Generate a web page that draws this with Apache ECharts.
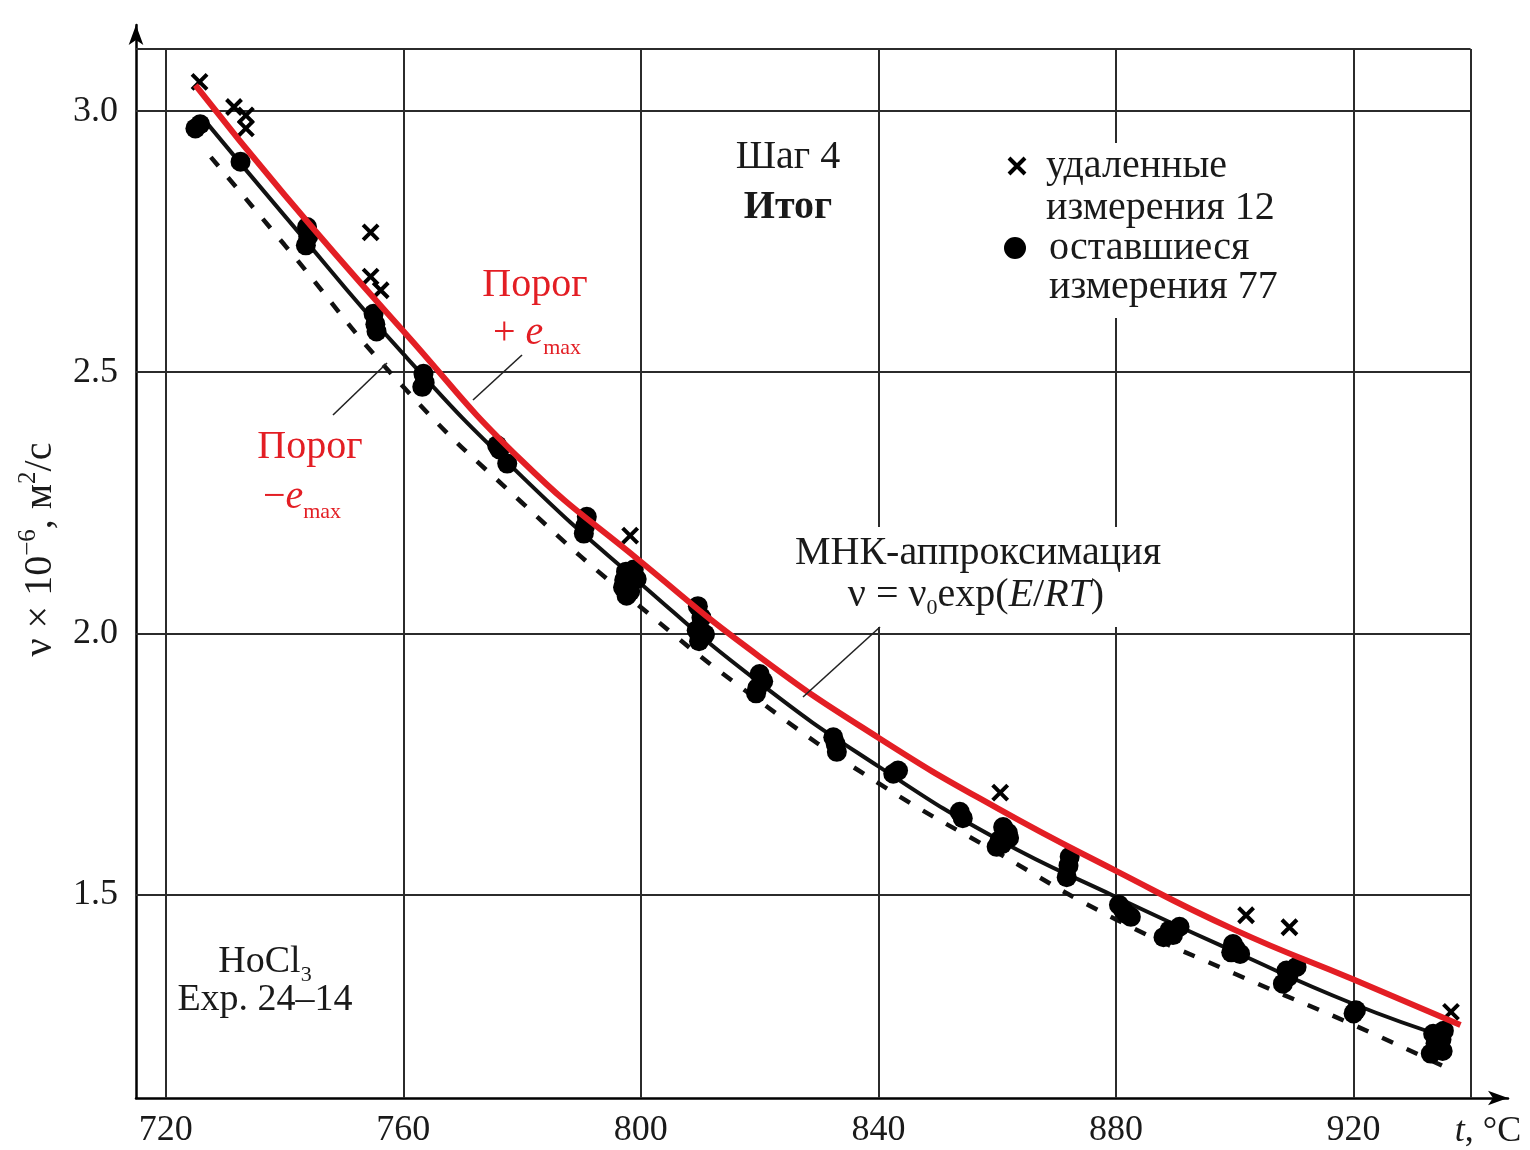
<!DOCTYPE html>
<html><head><meta charset="utf-8">
<script src="https://cdn.jsdelivr.net/npm/echarts@6/dist/echarts.min.js"></script>
<style>html,body{margin:0;padding:0;background:#fff}#c{width:1530px;height:1150px}</style>
</head><body><div id="c"></div><script>
// ---- axes / ticks ----
const xTicks = [720, 760, 800, 840, 880, 920];
const yTicks = [1.5, 2.0, 2.5, 3.0];
const frameT = [715, 939.7];
const frameV = [1.11, 3.119];

// ---- MNK approximation (solid black) ----
const fitT = [726, 740, 760, 780, 800, 820, 840, 860, 880, 900, 920, 936];
const fitV = [2.99, 2.80, 2.535, 2.30, 2.095, 1.905, 1.745, 1.606, 1.495, 1.39, 1.29, 1.225];

// ---- threshold + e_max (red) ----
const upT = [725, 740, 760, 780, 800, 820, 840, 860, 880, 900, 920, 938];
const upV = [3.05, 2.84, 2.579, 2.33, 2.137, 1.955, 1.80, 1.665, 1.545, 1.432, 1.337, 1.25];

// ---- threshold − e_max (dashed) ----
const lowT = [727.6, 740, 760, 780, 800, 820, 840, 860, 880, 900, 920, 936];
const lowV = [2.912, 2.744, 2.472, 2.25, 2.05, 1.87, 1.713, 1.58, 1.452, 1.348, 1.25, 1.166];

// ---- remaining measurements (77) ----
const keptT = [725.0,725.8,732.6,743.8,744.0,743.6,755.0,755.3,755.5,763.4,763.6,763.2,775.8,776.2,777.5,
  790.9,790.6,790.4,797.5,798.5,799.3,798.0,797.0,798.2,797.6,809.6,810.2,809.4,810.8,809.8,
  820.0,820.6,819.6,819.4,832.4,832.8,833.0,842.5,843.3,853.7,854.2,861.0,861.8,860.4,859.9,860.8,
  872.2,872.0,871.7,880.5,881.2,882.5,881.8,889.0,890.7,888.0,889.6,899.7,900.9,900.2,899.4,
  908.7,910.4,908.1,909.0,920.4,920.0,933.4,934.2,935.2,933.0,934.8,935.0,933.8,798.8,797.2,862.0];
const keptV = [2.967,2.975,2.903,2.778,2.760,2.743,2.612,2.592,2.578,2.497,2.480,2.472,2.360,2.352,2.325,
  2.223,2.205,2.191,2.118,2.112,2.104,2.098,2.088,2.080,2.072,2.052,2.030,2.006,1.998,1.985,
  1.922,1.908,1.895,1.885,1.801,1.788,1.773,1.731,1.737,1.658,1.646,1.629,1.618,1.604,1.591,1.596,
  1.572,1.555,1.533,1.480,1.470,1.457,1.462,1.431,1.438,1.418,1.422,1.405,1.386,1.395,1.389,
  1.354,1.361,1.329,1.342,1.278,1.272,1.233,1.208,1.239,1.195,1.222,1.200,1.215,2.122,2.102,1.608];

// ---- removed measurements (12) ----
const removedT = [725.7, 731.5, 733.5, 733.5, 754.5, 754.5, 756.2, 798.2, 860.5, 901.9, 909.2, 936.4];
const removedV = [3.056, 3.008, 2.992, 2.967, 2.768, 2.683, 2.657, 2.187, 1.695, 1.460, 1.437, 1.275];

const names = {
  removed: 'удаленные измерения 12',
  kept: 'оставшиеся измерения 77'
};

const zip = (a, b) => a.map((v, i) => [v, b[i]]);
const FONT = '"Liberation Serif", "Times New Roman", serif';
const INK = '#1a1a1a';
const RED = '#e31e24';

const gridLines = [];
xTicks.forEach(t => gridLines.push([{coord: [t, frameV[0]]}, {coord: [t, frameV[1]]}]));
yTicks.forEach(v => gridLines.push([{coord: [frameT[0], v]}, {coord: [frameT[1], v]}]));
gridLines.push([{coord: [frameT[0], frameV[1]]}, {coord: [frameT[1], frameV[1]]}]);
gridLines.push([{coord: [frameT[1], frameV[0]]}, {coord: [frameT[1], frameV[1]]}]);

const chart = echarts.init(document.getElementById('c'), null, {renderer: 'canvas'});
const rich = (fs, lh, col) => ({
  n: {fontFamily: FONT, fontSize: fs, lineHeight: lh, fill: col},
  i: {fontFamily: FONT, fontSize: fs, fontStyle: 'italic', lineHeight: lh, fill: col},
  s: {fontFamily: FONT, fontSize: 22, lineHeight: lh, verticalAlign: 'bottom', fill: col}
});
chart.setOption({
  animation: false,
  backgroundColor: '#fff',
  grid: {left: 136, right: 22, top: 25, bottom: 52, containLabel: false},
  xAxis: {
    type: 'value', min: 715, max: 946,
    axisLine: {onZero: false, lineStyle: {color: '#000', width: 2.5}, symbol: ['none', 'arrow'], symbolSize: [11, 20]},
    axisTick: {show: false},
    splitLine: {show: false},
    axisLabel: {customValues: xTicks, margin: 15, fontFamily: FONT, fontSize: 36, color: INK},
    name: '{i|t}{n|, °C}', nameLocation: 'end', nameGap: -20,
    nameTextStyle: {align: 'center', verticalAlign: 'top', padding: [16, 0, 0, 0],
      rich: {i: {fontFamily: FONT, fontSize: 36, fontStyle: 'italic', color: INK},
             n: {fontFamily: FONT, fontSize: 36, color: INK}}}
  },
  yAxis: {
    type: 'value', min: 1.11, max: 3.165,
    axisLine: {onZero: false, lineStyle: {color: '#000', width: 2.5}, symbol: ['none', 'arrow'], symbolSize: [11, 20]},
    axisTick: {show: false},
    splitLine: {show: false},
    axisLabel: {customValues: yTicks, margin: 18, fontFamily: FONT, fontSize: 36, color: INK,
      formatter: v => v.toFixed(1)},
    name: '{n|ν × 10}{s|−6}{n|, м}{s|2}{n|/с}', nameLocation: 'middle', nameRotate: 90, nameGap: 72,
    nameTextStyle: {padding: [0, 0, 0, 24],
      rich: {n: {fontFamily: FONT, fontSize: 40, lineHeight: 48, color: INK},
             s: {fontFamily: FONT, fontSize: 25, lineHeight: 48, verticalAlign: 'top', color: INK}}}
  },
  legend: [
    {orient: 'vertical', left: 1007, top: 103, padding: 0, itemWidth: 16, itemHeight: 16, selectedMode: false,
      itemStyle: {borderWidth: 4, borderColor: '#000', color: 'rgba(0,0,0,0)'},
      textStyle: {fontFamily: FONT, fontSize: 40, lineHeight: 42, color: INK, padding: [0, 0, 0, 16]},
      data: [names.removed], formatter: () => '\nудаленные\nизмерения 12'},
    {orient: 'vertical', left: 1004, top: 189, padding: 0, itemWidth: 22, itemHeight: 22, selectedMode: false,
      textStyle: {fontFamily: FONT, fontSize: 40, lineHeight: 39, color: INK, padding: [0, 0, 0, 18]},
      data: [names.kept], formatter: () => '\nоставшиеся\nизмерения 77'}
  ],
  series: [
    {
      name: 'Порог − e_max', type: 'line', data: zip(lowT, lowV), smooth: true, showSymbol: false,
      lineStyle: {color: '#111', width: 4.5, type: [12, 15]}, z: 2, silent: true
    },
    {
      name: 'МНК-аппроксимация', type: 'line', data: zip(fitT, fitV), smooth: true, showSymbol: false,
      lineStyle: {color: '#111', width: 4}, z: 3, silent: true,
      markLine: {silent: true, z: 1, symbol: ['none', 'none'], label: {show: false},
        lineStyle: {color: '#2b2b2b', width: 2, type: 'solid'}, emphasis: {disabled: true},
        data: gridLines}
    },
    {
      name: names.kept, type: 'scatter', data: zip(keptT, keptV), symbol: 'circle', symbolSize: 20,
      itemStyle: {color: '#000', opacity: 1}, z: 4
    },
    {
      name: names.removed, type: 'scatter', data: zip(removedT, removedV),
      symbol: 'path://M0,0L10,10M10,0L0,10', symbolSize: 15,
      itemStyle: {color: 'rgba(0,0,0,0)', borderColor: '#000', borderWidth: 4, opacity: 1}, z: 4
    },
    {
      name: 'Порог + e_max', type: 'line', data: zip(upT, upV), smooth: true, showSymbol: false,
      lineStyle: {color: RED, width: 6}, z: 6, silent: true
    }
  ],
  graphic: {elements: [
    {type: 'rect', z: 3, silent: true, shape: {x: 1040, y: 143, width: 250, height: 175}, style: {fill: '#fff'}},
    {type: 'rect', z: 3, silent: true, shape: {x: 780, y: 527, width: 400, height: 100}, style: {fill: '#fff'}},
    {type: 'line', z: 7, shape: {x1: 333, y1: 415, x2: 387, y2: 363}, style: {stroke: '#222', lineWidth: 1.6}},
    {type: 'line', z: 7, shape: {x1: 473, y1: 400, x2: 522, y2: 355}, style: {stroke: '#222', lineWidth: 1.6}},
    {type: 'line', z: 7, shape: {x1: 803, y1: 697, x2: 880, y2: 627}, style: {stroke: '#222', lineWidth: 1.6}},
    {type: 'text', z: 8, x: 788, y: 157, style: {text: 'Шаг 4', font: '40px ' + FONT, fill: INK, align: 'center', verticalAlign: 'middle'}},
    {type: 'text', z: 8, x: 788, y: 208, style: {text: 'Итог', font: 'bold 40px ' + FONT, fill: INK, align: 'center', verticalAlign: 'middle'}},
    {type: 'text', z: 8, x: 535, y: 285, style: {text: 'Порог', font: '40px ' + FONT, fill: RED, align: 'center', verticalAlign: 'middle'}},
    {type: 'text', z: 8, x: 537, y: 333, style: {text: '{n|+ }{i|e}{s|max}', align: 'center', verticalAlign: 'middle',
      rich: rich(40, 52, RED)}},
    {type: 'text', z: 8, x: 310, y: 447, style: {text: 'Порог', font: '40px ' + FONT, fill: RED, align: 'center', verticalAlign: 'middle'}},
    {type: 'text', z: 8, x: 302, y: 497, style: {text: '{n|−}{i|e}{s|max}', align: 'center', verticalAlign: 'middle',
      rich: rich(40, 52, RED)}},
    {type: 'text', z: 8, x: 978, y: 553, style: {text: 'МНК-аппроксимация', font: '40px ' + FONT, fill: INK, align: 'center', verticalAlign: 'middle'}},
    {type: 'text', z: 8, x: 976, y: 595, style: {text: '{n|ν = ν}{s|0}{n|exp(}{i|E}{n|/}{i|RT}{n|)}', align: 'center', verticalAlign: 'middle',
      rich: rich(40, 48, INK)}},
    {type: 'text', z: 8, x: 265, y: 962, style: {text: '{n|HoCl}{s|3}', align: 'center', verticalAlign: 'middle',
      rich: rich(38, 48, INK)}},
    {type: 'text', z: 8, x: 265, y: 1000, style: {text: 'Exp. 24–14', font: '38px ' + FONT, fill: INK, align: 'center', verticalAlign: 'middle'}}
  ]}
});
</script></body></html>
